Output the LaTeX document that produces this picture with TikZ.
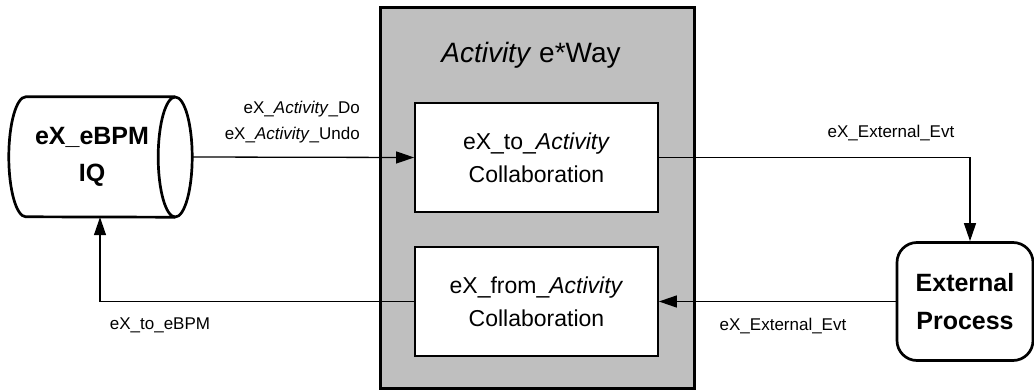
\documentclass[tikz,border=0pt]{standalone}
\usepackage{fontspec}
\setmainfont{Liberation Sans}
\usetikzlibrary{positioning, arrows.meta}

\begin{document}
\begin{tikzpicture}[x=1pt, y=-1pt,
  waybox/.style={draw, line width=3pt, fill=black!25, minimum width=314pt, minimum height=381pt},
  collab/.style={draw, line width=1.8pt, fill=white, minimum width=243pt, minimum height=109pt,
    align=center, font=\fontsize{23}{33}\selectfont},
  queue/.style={minimum width=166pt, minimum height=120pt, inner sep=0pt,
    align=center, font=\bfseries\fontsize{25}{37}\selectfont},
  tank/.style={line width=2.7pt},
  extbox/.style={draw, line width=2.7pt, rounded corners=20pt, minimum width=136pt, minimum height=118pt,
    align=center, font=\bfseries\fontsize{25}{38}\selectfont},
  lbl/.style={font=\fontsize{17}{26}\selectfont, inner sep=0pt},
  flow/.style={line width=1.3pt, -{Triangle[length=18pt, width=12pt]}}]
\useasboundingbox (0,0) rectangle (1034,391);

% e*Way with its two collaborations
\node[waybox] (way) at (537,197.5) {};
\node[font=\fontsize{28}{34}\selectfont] (waytitle) at (531,55) {\textit{Activity} e*Way};
\node[collab] (toact) at (536.5,157.5) {eX\_to\_\textit{Activity}\\Collaboration};
\node[collab] (fromact) at (536.5,301.5) {eX\_from\_\textit{Activity}\\Collaboration};

% Queue (cylinder) and external process
\node[queue] (iq) at (92,157) {eX\_eBPM\\IQ};
\draw[tank] (iq.north east) -- ([xshift=17pt]iq.north west)
  arc[start angle=90, end angle=270, x radius=17pt, y radius=60pt] -- (iq.south east);
\draw[tank] (iq.east) ellipse[x radius=17pt, y radius=60pt];
\coordinate (iqend) at ([xshift=17pt]iq.east);
\node[extbox] (extp) at (965,301.5) {External\\Process};

% Connectors
\draw[flow] (iqend) -- (toact.west);
\draw[flow] (toact.east) -| ([xshift=5pt]extp.north);
\draw[flow] (extp.west) -- (fromact.east);
\draw[flow] (fromact.west) -| ([xshift=8pt]iq.south);

% Labels
\node[lbl, anchor=east] (dolbl) at (360,109) {eX\_\textit{Activity}\_Do};
\node[lbl, anchor=east] (undolbl) at (360,135) {eX\_\textit{Activity}\_Undo};
\node[lbl] (evtout) at (891,133) {eX\_External\_Evt};
\node[lbl] (evtin) at (783,326) {eX\_External\_Evt};
\node[lbl] (tobpm) at (160,325) {eX\_to\_eBPM};
\end{tikzpicture}
\end{document}
